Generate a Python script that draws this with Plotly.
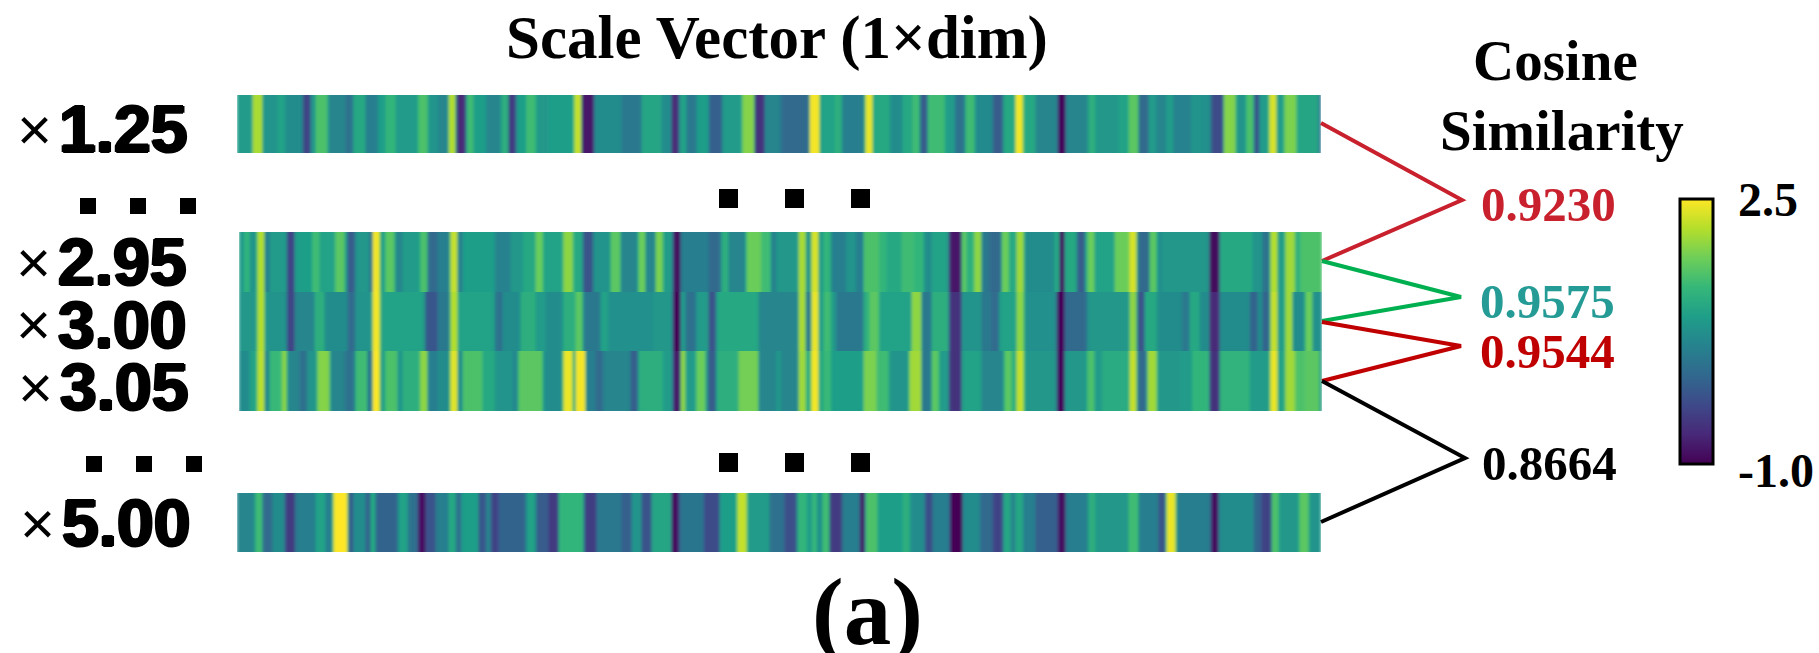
import plotly.graph_objects as go

W, H = 1819, 653

scale_labels = ["1.25", "2.95", "3.00", "3.05", "5.00"]
similarity_values = ["0.9230", "0.9575", "0.9544", "0.8664"]
similarity_colors = ["#c8202c", "#259b96", "#c00000", "#000000"]
color_min, color_max = -1.0, 2.5
color_tick_labels = ["2.5", "-1.0"]
n_dims = 432

# each strip: (last dimension of the run, value)
runs_125 = [(6,.9),(10,2.05),(16,.8),(19,1.0),(26,.7),(29,-.3),(31,.8),(36,1.5),(43,.6),(46,.3),(51,1.1),(56,.5),(59,.95),(63,1.3),(72,.9),(76,1.5),(80,.8),(84,.6),(87,2.1),(91,-.6),(94,1.4),(99,.95),(105,.6),(108,1.2),(111,-.4),(115,.95),(119,1.4),(124,.85),(134,.95),(137,2.2),(142,-.8),(153,.7),(161,.4),(169,1.05),(173,.7),(176,-.6),(179,1.0),(183,.4),(188,.95),(193,.05),(201,.9),(206,1.85),(210,-.5),(216,.6),(217,.4),(228,.2),(232,2.45),(238,1.0),(241,1.2),(250,.5),(253,2.4),(260,1.1),(265,.7),(269,1.1),(272,1.4),(275,0),(282,1.4),(286,.9),(290,.3),(294,1.4),(301,.65),(305,0),(310,1.1),(313,2.45),(318,1.1),(327,.6),(330,-.95),(339,.6),(342,1.2),(351,.85),(355,1.0),(359,1.6),(363,.2),(366,.9),(370,.6),(373,.9),(380,.55),(384,.8),(388,.75),(393,-.2),(398,1.85),(402,.8),(405,1.5),(407,-.2),(411,.9),(414,2.3),(417,.9),(422,1.8),(431,1.05),(432,.1)]
runs_295 = [(2,.9),(4,1.3),(7,.8),(10,2.1),(12,.5),(19,.9),(22,-.3),(29,.95),(32,1.4),(38,1.0),(42,1.6),(43,.8),(46,0),(52,.85),(53,.0),(56,2.45),(58,.9),(62,1.6),(65,.6),(72,.9),(75,1.5),(79,.2),(84,.5),(87,2.2),(89,.5),(102,.95),(108,.55),(113,.85),(118,1.1),(121,1.7),(129,1.0),(133,1.9),(137,1.1),(141,-.1),(148,.8),(152,1.6),(159,.6),(162,1.7),(166,.6),(169,1.8),(173,.9),(176,-.9),(187,.5),(192,.2),(195,1.2),(202,.6),(208,1.7),(212,1.4),(214,.5),(223,.85),(226,2.05),(228,.7),(231,2.3),(233,.9),(236,1.3),(242,.5),(246,.8),(249,.5),(255,1.5),(258,1.3),(264,1.1),(269,1.4),(273,1.3),(276,.7),(283,1.0),(288,-.8),(290,1.6),(293,1.2),(296,1.9),(299,.4),(304,.2),(307,1.7),(310,1.1),(313,2.0),(325,.7),(327,1.1),(329,-.95),(334,1.1),(337,.0),(338,.8),(341,1.7),(349,1.0),(355,1.7),(358,2.3),(363,.2),(366,1.6),(368,.7),(387,.85),(391,-.9),(404,1.1),(408,.8),(411,.3),(414,2.1),(417,.9),(421,2.0),(423,1.2),(432,1.5)]
runs_300 = [(7,.85),(10,2.1),(19,.8),(22,-.3),(30,.6),(34,1.2),(43,.7),(46,.2),(53,.8),(56,2.45),(74,1.0),(79,-.05),(84,.4),(87,2.1),(102,1.0),(105,.3),(112,.7),(118,1.2),(122,.9),(129,.7),(134,1.2),(137,1.6),(144,.4),(147,1.0),(165,.75),(173,.85),(176,-1.0),(178,.9),(182,.3),(187,.9),(190,-.1),(207,1.1),(223,.6),(226,2.05),(228,.2),(231,2.4),(233,.95),(236,1.4),(238,.9),(249,.4),(251,1.2),(255,1.6),(268,1.0),(272,1.9),(276,.4),(283,1.2),(288,-.5),(296,.8),(300,.4),(303,.2),(310,1.0),(313,1.9),(326,.75),(329,-.95),(338,.2),(355,.85),(358,1.9),(361,-.1),(366,1.1),(376,.7),(379,.4),(383,1.1),(387,.7),(391,-.6),(403,.7),(406,.1),(408,.7),(411,.1),(414,2.2),(417,.9),(420,2.0),(425,.7),(428,1.7),(432,.75)]
runs_305 = [(4,.7),(7,1.0),(10,2.15),(12,.6),(17,1.35),(19,1.9),(24,.6),(27,.3),(31,.8),(36,1.85),(42,.6),(46,.3),(51,1.4),(53,.3),(56,2.5),(58,.9),(63,1.5),(65,.8),(72,1.2),(75,1.9),(79,.5),(84,.7),(87,2.35),(89,.7),(97,1.5),(102,1.1),(109,.8),(111,.6),(121,1.6),(129,.7),(133,2.4),(134,.8),(138,2.45),(142,.5),(145,.2),(156,.6),(159,.05),(169,1.2),(173,.9),(176,-.8),(178,1.9),(182,.9),(186,1.7),(187,.6),(190,0),(199,1.2),(207,1.75),(214,.6),(216,.85),(223,.6),(226,2.0),(228,1.1),(231,2.45),(233,1.1),(236,1.35),(249,.95),(254,1.8),(259,1.4),(267,.8),(272,2.0),(276,.4),(279,1.6),(283,.9),(288,-.5),(296,1.0),(305,.6),(308,1.6),(310,1.2),(313,2.2),(326,.85),(329,-.95),(338,.85),(341,1.5),(344,.9),(355,1.15),(358,2.2),(362,.2),(366,2.0),(375,.85),(380,.9),(387,1.3),(391,-.5),(403,1.25),(411,.9),(414,2.4),(417,1.0),(421,2.0),(425,1.5),(431,1.6),(432,.6)]
runs_500 = [(7,.6),(10,1.4),(14,.2),(19,.7),(23,-.4),(31,.5),(35,1.0),(38,.5),(44,2.5),(46,-.1),(51,.7),(53,.1),(55,1.1),(64,.1),(68,1.0),(72,.3),(75,-.85),(79,-.1),(84,.5),(87,1.1),(89,.2),(96,.95),(99,-.05),(101,.6),(104,-.3),(115,.1),(119,1.0),(124,0),(128,-.4),(138,1.3),(143,-.35),(153,.4),(157,.05),(161,.8),(165,-.1),(173,1.05),(176,-.9),(186,.35),(192,-.2),(199,.95),(203,2.2),(212,.9),(218,.3),(223,-.15),(227,1.3),(229,.9),(231,1.35),(233,.7),(236,1.4),(241,-.4),(248,.5),(250,-.9),(255,1.5),(265,.95),(268,1.2),(274,.7),(277,-.2),(284,.5),(289,-1.0),(296,.7),(301,.2),(305,-.3),(308,1.1),(310,.6),(313,1.1),(318,.5),(327,.05),(330,-.9),(339,.5),(342,1.2),(355,.85),(359,1.4),(367,.5),(370,-.1),(374,2.4),(388,.5),(391,-.9),(405,.7),(408,.1),(412,-.3),(415,1.5),(423,.85),(427,1.6),(432,.8)]

all_runs = [runs_125, runs_295, runs_300, runs_305, runs_500]


def expand(runs):
    out, start = [], 0
    for end, value in runs:
        out += [value] * (end - start)
        start = end
    return out


# pixel layout of the five strips: left, right, top, bottom
boxes = [(237, 1321, 95, 153), (239, 1322, 232, 292), (239, 1322, 292, 351),
         (239, 1322, 351, 411), (237, 1321, 493, 552)]

fx = lambda px: px / W
fy = lambda px: 1 - px / H

fig = go.Figure()
layout_axes = {}
for i, (runs, (l, r, t, b)) in enumerate(zip(all_runs, boxes), start=1):
    row = expand(runs)
    fig.add_trace(go.Heatmap(
        z=[row, row], x=list(range(n_dims)), y=[0, 1],
        coloraxis="coloraxis", zsmooth="best", hoverinfo="skip",
        xaxis=f"x{i}", yaxis=f"y{i}"))
    layout_axes[f"xaxis{i}"] = dict(domain=[fx(l), fx(r)], visible=False, anchor=f"y{i}")
    layout_axes[f"yaxis{i}"] = dict(domain=[fy(b), fy(t)], visible=False, anchor=f"x{i}")

fig.update_layout(**layout_axes)

shapes = []
# connectors between strips and similarity values
connectors = [
    ("#c8202c", [(1321, 123), (1462, 200), (1322, 261)]),
    ("#00b050", [(1322, 261), (1461, 297), (1322, 321)]),
    ("#c00000", [(1322, 322), (1461, 346), (1322, 381)]),
    ("#000000", [(1322, 381), (1465, 458), (1321, 522)]),
]
for color, pts in connectors:
    path = "M " + " L ".join(f"{fx(x):.5f},{fy(y):.5f}" for x, y in pts)
    shapes.append(dict(type="path", path=path, xref="paper", yref="paper",
                       line=dict(color=color, width=4)))

# ellipsis squares
squares = [(80, 198), (130, 198), (180, 198), (86, 456), (136, 456), (186, 456),
           (719, 189), (785, 189), (851, 189), (719, 453), (785, 453), (851, 453)]
for i, (x, y) in enumerate(squares):
    s = 16 if i < 6 else 19
    shapes.append(dict(type="rect", xref="paper", yref="paper", x0=fx(x), x1=fx(x + s),
                       y0=fy(y), y1=fy(y + s), fillcolor="black", line=dict(width=0)))

SERIF = "Liberation Serif"
SANS = "Liberation Sans"


def text(s, x, y, size, color="black", family=SERIF, bold=True, xanchor="center", shadow=None):
    font = dict(family=family, size=size, color=color, weight="bold" if bold else "normal")
    if shadow:
        font["shadow"] = shadow
    return dict(text=s, x=fx(x), y=fy(y), xref="paper", yref="paper", showarrow=False,
                xanchor=xanchor, yanchor="middle", font=font)


ann = [
    text("Scale Vector (1×dim)", 777, 38, 61),
    text("Cosine", 1555, 60, 57),
    text("Similarity", 1562, 130, 57),
    text("(a)", 867, 612, 95),
]
for s, c, x, y in zip(similarity_values, similarity_colors, [1548, 1547, 1547, 1549], [204, 301, 351, 463]):
    ann.append(text(s, x, y, 49, color=c))

label_x = [57, 56, 56, 58, 60]
label_y = [129, 262, 325, 387, 523]
for s, x, y in zip(scale_labels, label_x, label_y):
    ann.append(text("×", x - 23, y, 60, family=SANS, bold=False))
    ann.append(text(s, x, y, 66, family=SANS, xanchor="left", shadow="1.5px 0 0 black, -1.5px 0 0 black, 0 1px 0 black, 0 -1px 0 black"))

for s, y in zip(color_tick_labels, [199, 470]):
    ann.append(text(s, 1736, y, 48, xanchor="left"))

fig.update_layout(
    width=W, height=H, margin=dict(l=0, r=0, t=0, b=0),
    paper_bgcolor="white", plot_bgcolor="white", showlegend=False,
    shapes=shapes, annotations=ann,
    coloraxis=dict(
        colorscale="Viridis", cmin=color_min, cmax=color_max,
        colorbar=dict(
            x=fx(1680), xanchor="left", y=fy(331.5), yanchor="middle",
            lenmode="pixels", len=265, thicknessmode="pixels", thickness=33,
            outlinecolor="black", outlinewidth=3, xpad=0, ypad=0,
            tickmode="array", tickvals=[color_min, color_max], showticklabels=False,
            ticks="",
        ),
    ),
)

fig.write_html(
    "out.html",
    config={"displayModeBar": False},
    post_script=(
        "document.body.style.margin='0';document.body.style.overflow='hidden';"
        "var d=document.createElement('div');d.style.position='absolute';d.style.width='0';d.style.height='0';"
        "d.innerHTML='<svg width=\"0\" height=\"0\"><filter id=\"hblur\" x=\"-2%\" y=\"0\" width=\"104%\" height=\"100%\">"
        "<feGaussianBlur stdDeviation=\"1.6 0\"/></filter></svg>';document.body.appendChild(d);"
        "document.querySelectorAll('.heatmaplayer image, .hm image').forEach(function(el){el.style.filter='url(#hblur)';});"
    ),
)
